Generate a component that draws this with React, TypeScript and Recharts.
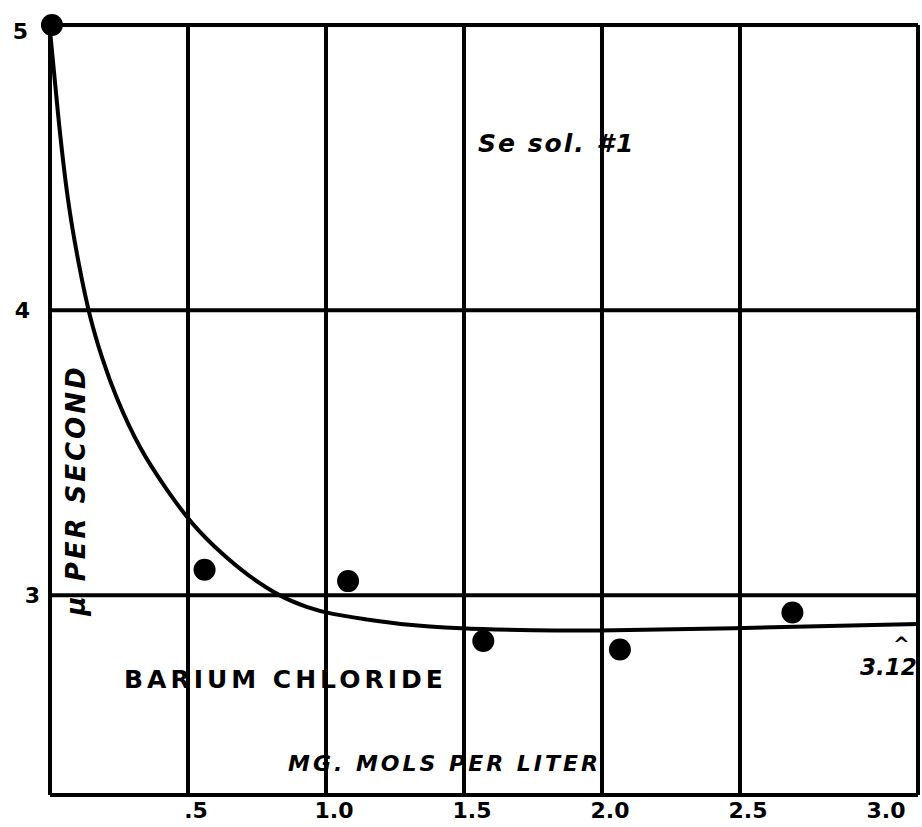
import React from 'react';
import { ComposedChart, Line, Scatter, XAxis, YAxis, ReferenceLine } from 'recharts';

// fitted curve
const curveX = [0, 0.03, 0.065, 0.105, 0.145, 0.19, 0.243, 0.326, 0.424, 0.518, 0.62, 0.72, 0.833, 0.93, 1.025, 1.15, 1.27, 1.49, 1.75, 1.99, 2.48, 3.145];
const curveY = [4.98, 4.68, 4.39, 4.16, 3.98, 3.83, 3.69, 3.52, 3.37, 3.25, 3.15, 3.07, 3.0, 2.96, 2.935, 2.915, 2.9, 2.885, 2.878, 2.877, 2.885, 2.9];

// measured points
const pointX = [0.007, 0.56, 1.08, 1.57, 2.065, 2.69];
const pointY = [5.0, 3.09, 3.05, 2.84, 2.81, 2.94];

const xTicks = [0.5, 1.0, 1.5, 2.0, 2.5, 3.0];
const xTickLabels = ['.5', '1.0', '1.5', '2.0', '2.5', '3.0'];
const yTicks = [5, 4, 3];
const yTickLabels = ['5', '4', '3'];
const xGrid = [0.5, 1.0, 1.5, 2.0, 2.5];
const yGrid = [4, 3];

const X_MAX = 3.145;
const Y_MIN = 2.3;
const Y_MAX = 5;

const curve = curveX.map((x, i) => ({ x, y: curveY[i] }));
const points = pointX.map((x, i) => ({ x, y: pointY[i] }));

const INK = '#000';
const handFont = '"DejaVu Sans", sans-serif';

const XTick = (props: any) => {
  const { x, y, payload } = props;
  const idx = xTicks.indexOf(payload.value);
  return (
    <text x={x + 8} y={y + 15} textAnchor="middle" fontSize={22} fontWeight="bold" fontFamily={handFont} fill={INK}>
      {idx >= 0 ? xTickLabels[idx] : payload.value}
    </text>
  );
};

const YTick = (props: any) => {
  const { x, y, payload } = props;
  const idx = yTicks.indexOf(payload.value);
  const shift = payload.value === 5 ? -14 : payload.value === 4 ? -12 : -2;
  return (
    <text x={x + shift} y={y + 8 + (payload.value === 5 ? 6 : 0)} textAnchor="end" fontSize={22} fontWeight="bold" fontFamily={handFont} fill={INK}>
      {idx >= 0 ? yTickLabels[idx] : payload.value}
    </text>
  );
};

const Dot = (props: any) => <circle cx={props.cx} cy={props.cy} r={11} fill={INK} />;

const note: React.CSSProperties = {
  position: 'absolute',
  fontFamily: handFont,
  fontWeight: 'bold',
  color: INK,
  whiteSpace: 'nowrap',
  lineHeight: 1,
};

export default function App() {
  return (
    <div style={{ position: 'absolute', left: 0, top: 0, width: 922, height: 827, background: '#fff' }}>
      <ComposedChart width={922} height={827} margin={{ top: 25, right: 4, bottom: 0, left: 0 }}>
        <XAxis
          type="number"
          dataKey="x"
          domain={[0, X_MAX]}
          ticks={xTicks}
          tick={<XTick />}
          tickLine={false}
          axisLine={{ stroke: INK, strokeWidth: 4 }}
          height={32}
        />
        <YAxis
          type="number"
          dataKey="y"
          domain={[Y_MIN, Y_MAX]}
          ticks={yTicks}
          tick={<YTick />}
          tickLine={false}
          axisLine={{ stroke: INK, strokeWidth: 4 }}
          width={50}
        />
        {xGrid.map(v => (
          <ReferenceLine key={'vx' + v} x={v} stroke={INK} strokeWidth={4} />
        ))}
        <ReferenceLine x={X_MAX} stroke={INK} strokeWidth={4} />
        {yGrid.map(v => (
          <ReferenceLine key={'hy' + v} y={v} stroke={INK} strokeWidth={4} />
        ))}
        <ReferenceLine y={Y_MAX} stroke={INK} strokeWidth={4} />
        <Line
          data={curve}
          dataKey="y"
          type="natural"
          stroke={INK}
          strokeWidth={4}
          dot={false}
          isAnimationActive={false}
        />
        <Scatter data={points} dataKey="y" shape={<Dot />} isAnimationActive={false} />
      </ComposedChart>

      <div style={{ ...note, left: 478, top: 131, fontSize: 25, fontStyle: 'italic', letterSpacing: 2 }}>Se sol. #1</div>
      <div style={{ ...note, left: 124, top: 667, fontSize: 25, letterSpacing: 4 }}>BARIUM CHLORIDE</div>
      <div style={{ ...note, left: 288, top: 753, fontSize: 22, fontStyle: 'italic', letterSpacing: 3 }}>MG. MOLS PER LITER</div>
      <div style={{ ...note, left: 893, top: 634, fontSize: 20 }}>^</div>
      <div style={{ ...note, left: 860, top: 656, fontSize: 23, fontStyle: 'italic' }}>3.12</div>
      <div
        style={{
          ...note,
          left: 76,
          top: 490,
          fontSize: 26,
          fontStyle: 'italic',
          letterSpacing: 3,
          transform: 'translate(-50%, -50%) rotate(-90deg)',
        }}
      >
        μ PER SECOND
      </div>
    </div>
  );
}
